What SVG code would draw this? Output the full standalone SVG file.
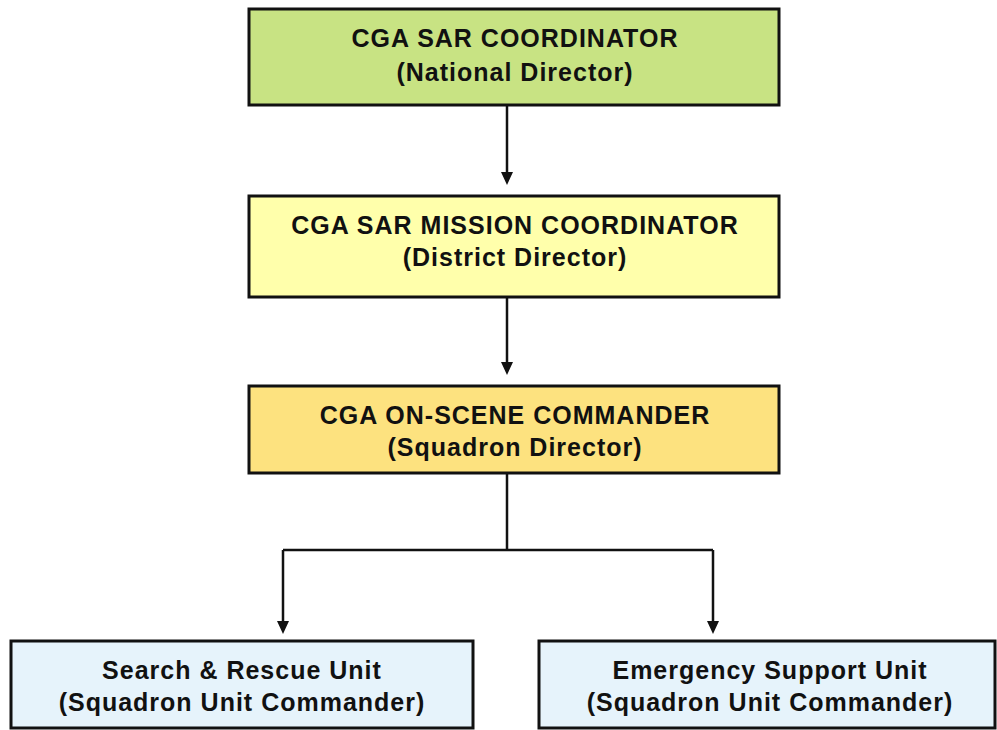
<svg xmlns="http://www.w3.org/2000/svg" width="997" height="730" viewBox="0 0 997 730">
<style>
.box{stroke:#111;stroke-width:3}
.t{font-family:"Liberation Sans",Arial,sans-serif;font-weight:bold;font-size:25px;letter-spacing:1px;fill:#111;text-anchor:middle}
.c{stroke:#111;stroke-width:2.5;fill:none}
.ah{fill:#111}
</style>
<rect width="997" height="730" fill="#fff"/>
<g id="connectors">
<path class="c" d="M507,105 V176"/>
<path class="c" d="M507,297 V366"/>
<path class="c" d="M507,473 V550 M283,550 H713 M283,550 V625 M713,550 V625"/>
<path class="ah" d="M501,172 L513,172 L507,185 Z M501,362 L513,362 L507,375 Z M277,621 L289,621 L283,634 Z M707,621 L719,621 L713,634 Z"/>
</g>
<g id="n1">
<rect class="box" x="249" y="9" width="530" height="96" fill="#c8e383"/>
<text class="t" x="515" y="47">CGA SAR COORDINATOR</text>
<text class="t" x="515" y="81">(National Director)</text>
</g>
<g id="n2">
<rect class="box" x="249" y="196" width="530" height="101" fill="#ffffab"/>
<text class="t" x="515" y="234">CGA SAR MISSION COORDINATOR</text>
<text class="t" x="515" y="266">(District Director)</text>
</g>
<g id="n3">
<rect class="box" x="249" y="386" width="530" height="87" fill="#fde27f"/>
<text class="t" x="515" y="424">CGA ON-SCENE COMMANDER</text>
<text class="t" x="515" y="456">(Squadron Director)</text>
</g>
<g id="n4">
<rect class="box" x="11" y="641" width="462" height="87" fill="#e6f3fb"/>
<text class="t" x="242" y="679">Search &amp; Rescue Unit</text>
<text class="t" x="242" y="711">(Squadron Unit Commander)</text>
</g>
<g id="n5">
<rect class="box" x="539" y="641" width="456" height="87" fill="#e6f3fb"/>
<text class="t" x="770" y="679">Emergency Support Unit</text>
<text class="t" x="770" y="711">(Squadron Unit Commander)</text>
</g>
</svg>
